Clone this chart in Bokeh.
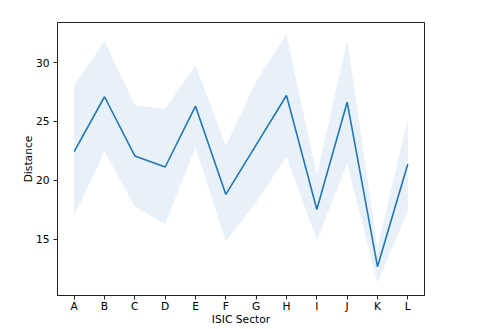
from bokeh.plotting import figure
from bokeh.models import FactorRange, Range1d, FixedTicker
from bokeh.embed import file_html
from bokeh.resources import INLINE

sectors = ["A", "B", "C", "D", "E", "F", "G", "H", "I", "J", "K", "L"]
mean_distance = [22.43, 27.09, 22.06, 21.12, 26.29, 18.79, 23.0, 27.2, 17.51, 26.63, 12.65, 21.38]
upper_ci = [28.06, 31.8, 26.38, 26.04, 29.76, 22.9, 28.4, 32.38, 20.38, 31.9, 14.3, 25.2]
lower_ci = [16.97, 22.43, 17.77, 16.27, 22.8, 14.78, 18.1, 22.03, 14.9, 21.38, 11.29, 17.4]
y_ticks = [15, 20, 25, 30]

FONT = "DejaVu Sans"
FS = "10.7px"

p = figure(
    width=494, height=329,
    x_range=FactorRange(factors=sectors, range_padding=0.05, range_padding_units="absolute"),
    y_range=Range1d(10.2, 33.4),
    output_backend="svg", toolbar_location=None,
    min_border_left=57, min_border_right=70, min_border_top=22, min_border_bottom=34,
)
p.varea(x=sectors, y1=lower_ci, y2=upper_ci, fill_color="#1f77b4", fill_alpha=0.1)
p.line(x=sectors, y=mean_distance, line_color="#1f77b4", line_width=1.6)

p.grid.visible = False
p.outline_line_color = "#222222"
p.outline_line_width = 1
p.background_fill_color = "white"
p.border_fill_color = "white"

for ax in (p.xaxis[0], p.yaxis[0]):
    ax.axis_line_color = "#222222"
    ax.major_tick_line_color = "#222222"
    ax.minor_tick_line_color = None
    ax.major_tick_in = 0
    ax.major_tick_out = 4
    ax.major_label_text_font = FONT
    ax.major_label_text_font_size = FS
    ax.major_label_text_color = "#000000"
    ax.axis_label_text_font = FONT
    ax.axis_label_text_font_size = FS
    ax.axis_label_text_font_style = "normal"
    ax.axis_label_text_color = "#000000"

p.xaxis.axis_label = "ISIC Sector"
p.yaxis.axis_label = "Distance"
p.xaxis.major_label_standoff = 0
p.xaxis.axis_label_standoff = -3
p.yaxis.major_label_standoff = 4
p.yaxis.axis_label_standoff = -2
p.yaxis.ticker = FixedTicker(ticks=y_ticks)
p.xaxis.group_text_font_size = FS

open("out.html", "w").write(file_html(p, INLINE))
